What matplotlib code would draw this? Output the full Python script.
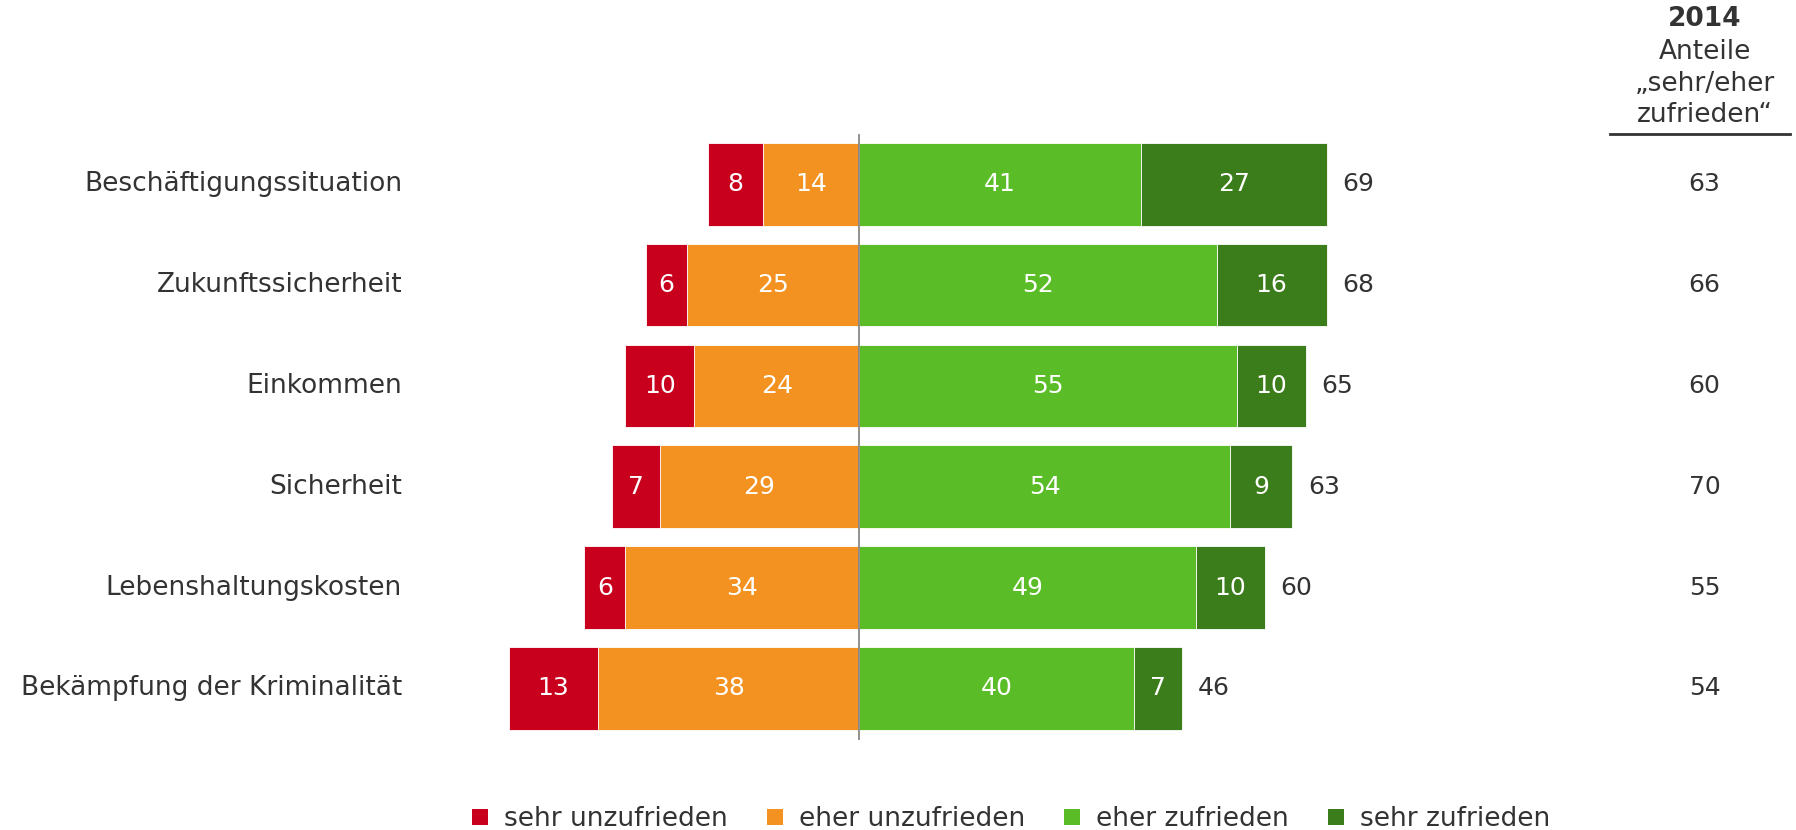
import matplotlib
matplotlib.use("Agg")
import matplotlib.pyplot as plt
from matplotlib.patches import Patch
import numpy as np

categories = ["Beschäftigungssituation", "Zukunftssicherheit", "Einkommen",
              "Sicherheit", "Lebenshaltungskosten", "Bekämpfung der Kriminalität"]
sehr_unzufrieden = [8, 6, 10, 7, 6, 13]
eher_unzufrieden = [14, 25, 24, 29, 34, 38]
eher_zufrieden = [41, 52, 55, 54, 49, 40]
sehr_zufrieden = [27, 16, 10, 9, 10, 7]
totals_zufrieden = [69, 68, 65, 63, 60, 46]
werte_2014 = [63, 66, 60, 70, 55, 54]
legend_labels = ["sehr unzufrieden", "eher unzufrieden", "eher zufrieden", "sehr zufrieden"]

colors = ["#C8001E", "#F39221", "#5ABD27", "#3A7D1A"]
txt_dark = "#333333"

plt.rcParams['font.family'] = ['DejaVu Sans']
fig = plt.figure(figsize=(17.96, 8.30), dpi=100)
ax = fig.add_axes([0, 0, 1, 1])
ax.set_xlim(-125.0, 136.3)
ax.set_ylim(6.405, -1.829)
ax.axis('off')

y = np.arange(len(categories))
su = np.array(sehr_unzufrieden)
eu = np.array(eher_unzufrieden)
ez = np.array(eher_zufrieden)
sz = np.array(sehr_zufrieden)
h = 0.82

ax.barh(y, -eu, left=0, height=h, color=colors[1], edgecolor='white', linewidth=0.6)
ax.barh(y, -su, left=-eu, height=h, color=colors[0], edgecolor='white', linewidth=0.6)
ax.barh(y, ez, left=0, height=h, color=colors[2], edgecolor='white', linewidth=0.6)
ax.barh(y, sz, left=ez, height=h, color=colors[3], edgecolor='white', linewidth=0.6)

fs = 18
fs_lab = 19
for i in range(len(categories)):
    ax.text(-eu[i] - su[i] / 2, y[i], str(su[i]), ha='center', va='center', color='white', fontsize=fs)
    ax.text(-eu[i] / 2, y[i], str(eu[i]), ha='center', va='center', color='white', fontsize=fs)
    ax.text(ez[i] / 2, y[i], str(ez[i]), ha='center', va='center', color='white', fontsize=fs)
    ax.text(ez[i] + sz[i] / 2, y[i], str(sz[i]), ha='center', va='center', color='white', fontsize=fs)
    ax.text(ez[i] + sz[i] + 2.3, y[i], str(totals_zufrieden[i]), ha='left', va='center', color=txt_dark, fontsize=fs)
    ax.text(-66.5, y[i], categories[i], ha='right', va='center', color=txt_dark, fontsize=fs_lab)
    ax.text(123.0, y[i], str(werte_2014[i]), ha='center', va='center', color=txt_dark, fontsize=fs)

ax.plot([0, 0], [-0.49, 5.50], color='#888888', lw=1.3, zorder=5)

# header of right column
ax.text(123.0, -1.64, "2014", ha='center', va='center', color=txt_dark, fontsize=fs_lab, fontweight='bold')
ax.text(123.0, -1.315, "Anteile", ha='center', va='center', color=txt_dark, fontsize=fs_lab)
ax.text(123.0, -1.0, "\u201esehr/eher", ha='center', va='center', color=txt_dark, fontsize=fs_lab)
ax.text(123.0, -0.693, "zufrieden\u201c", ha='center', va='center', color=txt_dark, fontsize=fs_lab)
ax.plot([109.3, 135.4], [-0.5, -0.5], color=txt_dark, lw=2)

handles = [Patch(facecolor=c, edgecolor='none') for c in colors]
fig.legend(handles, legend_labels, loc='center', bbox_to_anchor=(0.563, 0.013), ncol=4,
           frameon=False, fontsize=19, handlelength=0.6, handleheight=0.6,
           handletextpad=0.6, columnspacing=1.5, labelcolor=txt_dark)

fig.savefig("out.png", dpi=100)
